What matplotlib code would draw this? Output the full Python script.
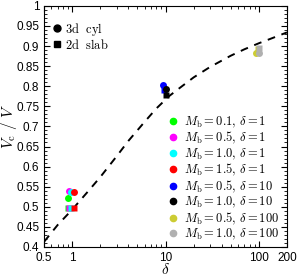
import numpy as np
import matplotlib.pyplot as plt
from matplotlib.lines import Line2D
from matplotlib.ticker import FixedLocator, MultipleLocator, NullFormatter, FormatStrFormatter

plt.rcParams['mathtext.fontset'] = 'cm'
plt.rcParams['font.family'] = 'Liberation Sans'

# curva teórica
curve_x = [0.5, 0.7, 1, 1.5, 2, 3, 4, 6, 8, 11, 15, 20, 30, 50, 70, 100, 140, 200]
curve_y = [0.413, 0.455, 0.493, 0.54, 0.574, 0.626, 0.664, 0.712, 0.745, 0.776,
           0.80, 0.822, 0.848, 0.876, 0.892, 0.907, 0.92, 0.934]

# simulaciones
labels = [r'$M_\mathrm{b} = 0.1,\, \delta = 1$', r'$M_\mathrm{b} = 0.5,\, \delta = 1$',
          r'$M_\mathrm{b} = 1.0,\, \delta = 1$', r'$M_\mathrm{b} = 1.5,\, \delta = 1$',
          r'$M_\mathrm{b} = 0.5,\, \delta = 10$', r'$M_\mathrm{b} = 1.0,\, \delta = 10$',
          r'$M_\mathrm{b} = 0.5,\, \delta = 100$', r'$M_\mathrm{b} = 1.0,\, \delta = 100$']
colors = ['#00ff00', '#ff00ff', '#00ffff', '#ff0000', '#0000ff', '#000000', '#cccc33', '#b0b0b0']
cyl_x = [0.90, 0.93, 0.96, 1.05, 9.5, 10.0, 93, 100]
cyl_y = [0.521, 0.539, 0.538, 0.538, 0.803, 0.793, 0.882, 0.882]
slab_x = [0.90, 0.93, 0.97, 1.05, 9.6, 10.1, 98, 100]
slab_y = [0.496, 0.497, 0.497, 0.498, 0.790, 0.779, 0.892, 0.895]

fig = plt.figure(figsize=(2.98, 2.8), dpi=100)
ax = fig.add_axes([0.148, 0.118, 0.815, 0.861])

ax.plot(curve_x, curve_y, 'k--', lw=1.4, dashes=(4, 3.5))
for i in range(len(labels)):
    ax.plot(slab_x[i], slab_y[i], 's', color=colors[i], ms=4.5, mec='none')
    ax.plot(cyl_x[i], cyl_y[i], 'o', color=colors[i], ms=5, mec='none')

ax.set_xscale('log')
ax.set_xlim(0.5, 200)
ax.xaxis.set_major_locator(FixedLocator([0.5, 1, 10, 100, 200]))
ax.set_xticklabels(['0.5', '1', '10', '100', '200'])
ax.xaxis.set_minor_formatter(NullFormatter())
ax.yaxis.set_major_locator(MultipleLocator(0.05))
ax.yaxis.set_minor_locator(MultipleLocator(0.01))
ax.yaxis.set_major_formatter(FormatStrFormatter('%g'))
ax.set_ylim(0.4, 1.0)
ax.tick_params(which='both', direction='in', top=True, right=True, labelsize=8.5)
ax.tick_params(which='major', length=4)
ax.tick_params(which='minor', length=2)

ax.set_xlabel(r'$\delta$', fontsize=11, labelpad=-1)
ax.set_ylabel(r'$V_\mathrm{c}\ /\ V$', fontsize=11)
ax.yaxis.set_label_coords(-0.105, 0.5)

h1 = [Line2D([], [], ls='none', marker='o', color='k', ms=5),
      Line2D([], [], ls='none', marker='s', color='k', ms=4.5)]
leg1 = ax.legend(h1, [r'$\mathrm{3d\ \ cyl}$', r'$\mathrm{2d\ \ slab}$'], loc='upper left',
                 bbox_to_anchor=(-0.01, 0.975), frameon=False, fontsize=9,
                 handletextpad=0.2, borderaxespad=0.3, labelspacing=0.0, handlelength=1.0)
ax.add_artist(leg1)
h2 = [Line2D([], [], ls='none', marker='o', color=c, ms=4.5) for c in colors]
ax.legend(h2, labels, loc='lower right', bbox_to_anchor=(1.0, -0.012), frameon=False,
          fontsize=9, handletextpad=0.3, borderaxespad=0.2, labelspacing=0.02,
          handlelength=1.2)

fig.savefig('out.png', dpi=100)
